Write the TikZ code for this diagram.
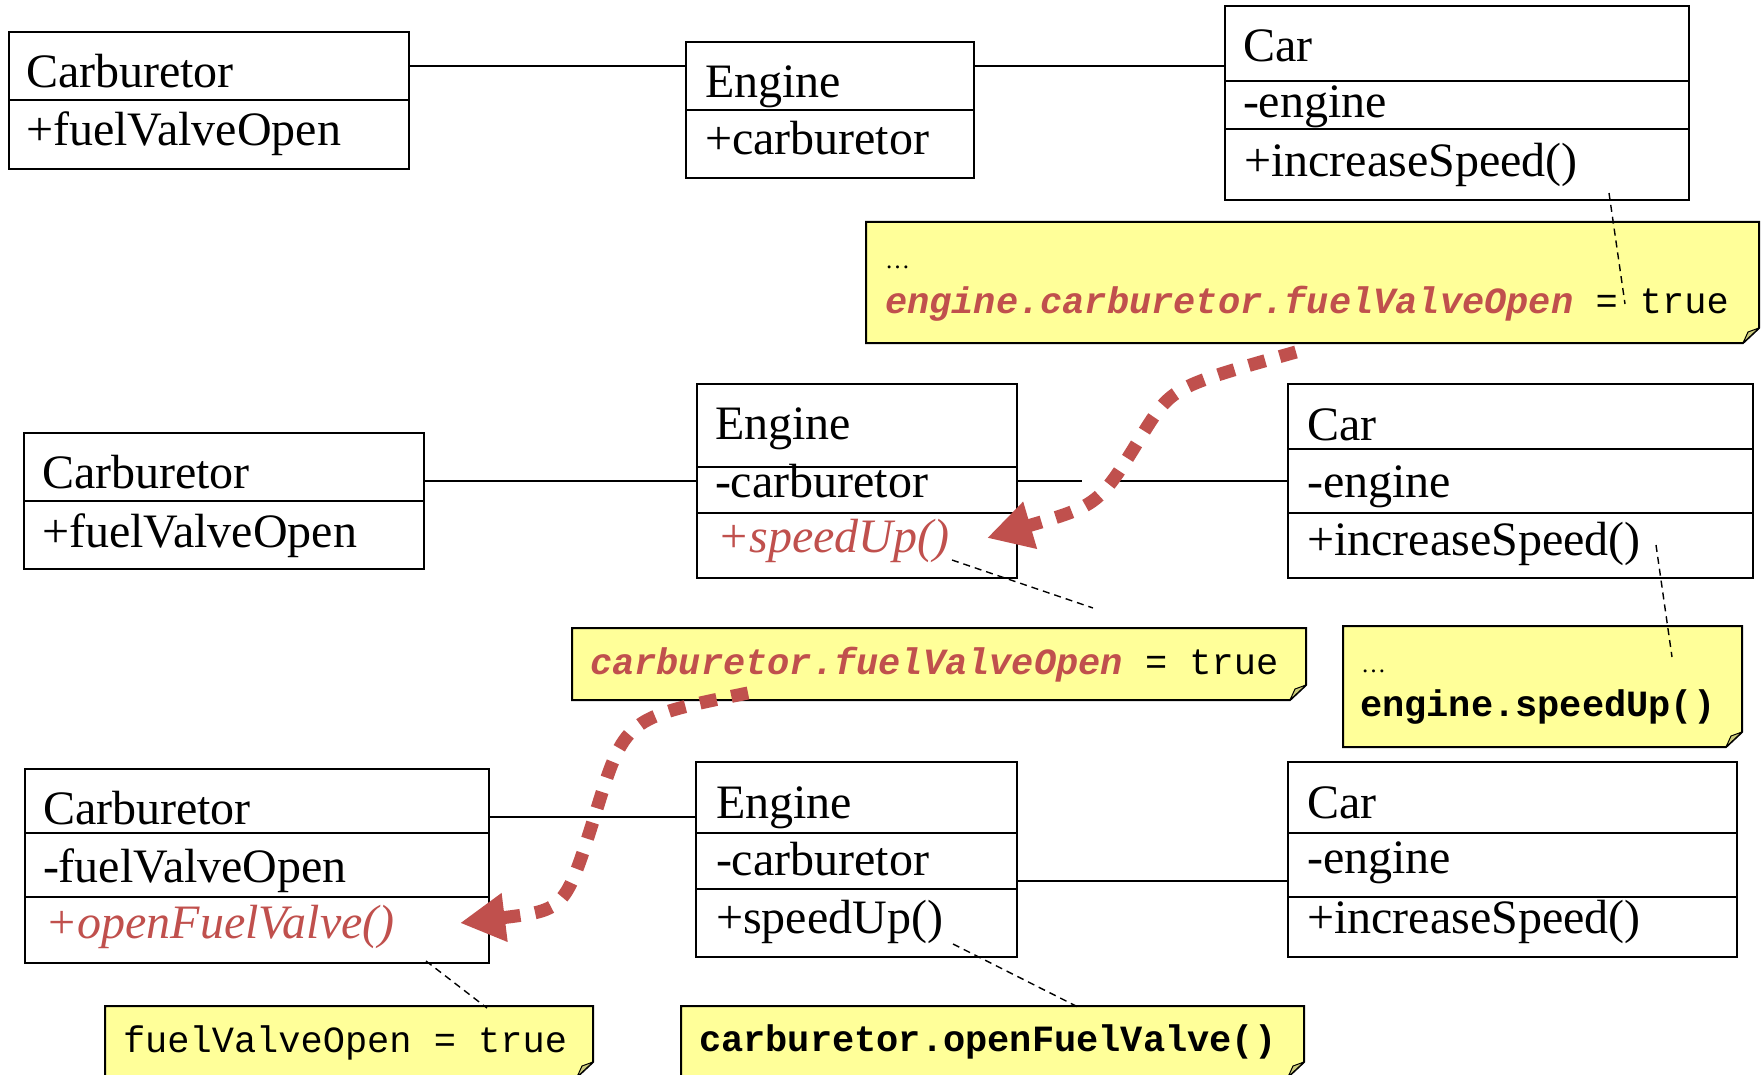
\documentclass[tikz,border=0pt]{standalone}
\usepackage{fontspec}
\setmainfont{Liberation Serif}
\setmonofont{Liberation Mono}
\usetikzlibrary{arrows.meta}
\definecolor{noteyellow}{RGB}{255,255,153}
\definecolor{notefold}{RGB}{204,204,122}
\definecolor{callred}{RGB}{192,80,77}
\newcommand\drawnote[1]{%
  \draw[noteshape] (#1.north west) -- (#1.north east) -- ([yshift=15pt]#1.south east)
     -- ([xshift=-16pt]#1.south east) -- (#1.south west) -- cycle;
  \draw[notefoldstyle] ([yshift=15pt]#1.south east) -- ([xshift=-16pt]#1.south east)
     -- ([xshift=-11pt,yshift=11pt]#1.south east) -- cycle;}
\begin{document}
\begin{tikzpicture}[x=1pt,y=-1pt,
  comp/.style={rectangle,draw=black,line width=2.2pt,fill=white,anchor=north west,inner sep=0pt,outer sep=0pt},
  umltext/.style={anchor=base west,inner sep=0pt,outer sep=0pt,font=\fontsize{48pt}{48pt}\selectfont},
  umlred/.style={umltext,text=callred,font=\fontsize{48pt}{48pt}\selectfont\itshape},
  codetext/.style={anchor=base west,inner sep=0pt,outer sep=0pt,font=\fontsize{37pt}{37pt}\selectfont\ttfamily},
  codebold/.style={codetext,font=\fontsize{37pt}{37pt}\selectfont\ttfamily\bfseries},
  ellip/.style={anchor=base west,inner sep=0pt,outer sep=0pt,font=\fontsize{25pt}{25pt}\selectfont},
  assoc/.style={draw=black,line width=2pt},
  notelink/.style={draw=black,line width=1.4pt,dash pattern=on 7pt off 5pt},
  notebody/.style={rectangle,anchor=north west,inner sep=0pt,outer sep=0pt},
  noteshape/.style={fill=noteyellow,draw=black,line width=2pt,line join=miter},
  notefoldstyle/.style={fill=notefold,draw=black,line width=1pt,line join=round},
  callarrow/.style={draw=callred,line width=13pt,dash pattern=on 17pt off 15pt,
    -{Triangle[length=45pt,width=46pt]}}
]
\fill[white] (0,0) rectangle (1764,1075);
\useasboundingbox (0,0) rectangle (1764,1075);

% ---------- row 1 ----------
\node[comp,minimum width=400pt,minimum height=68pt] (c1n) at (9,32) {};
\node[comp,minimum width=400pt,minimum height=69pt] (c1a) at (c1n.south west) {};
\node[comp,minimum width=288pt,minimum height=68pt] (e1n) at (686,42) {};
\node[comp,minimum width=288pt,minimum height=68pt] (e1a) at (e1n.south west) {};
\node[comp,minimum width=464pt,minimum height=75pt] (k1n) at (1225,6) {};
\node[comp,minimum width=464pt,minimum height=48pt] (k1a) at (k1n.south west) {};
\node[comp,minimum width=464pt,minimum height=71pt] (k1m) at (k1a.south west) {};

\node[umltext] (c1nt) at (26,88) {Carburetor};
\node[umltext] (c1at) at (26,146) {+fuelValveOpen};
\node[umltext] (e1nt) at (705,98) {Engine};
\node[umltext] (e1at) at (705,155) {+carburetor};
\node[umltext] (k1nt) at (1243,62) {Car};
\node[umltext] (k1at) at (1243,118) {-engine};
\node[umltext] (k1mt) at (1244,177) {+increaseSpeed()};

\draw[assoc] (c1n.east) -- (c1n.east -| e1n.west);
\draw[assoc] (e1n.east |- c1n.east) -- (k1n.west |- c1n.east);

% ---------- row 2 ----------
\node[comp,minimum width=400pt,minimum height=68pt] (c2n) at (24,433) {};
\node[comp,minimum width=400pt,minimum height=68pt] (c2a) at (c2n.south west) {};
\node[comp,minimum width=320pt,minimum height=83pt] (e2n) at (697,384) {};
\node[comp,minimum width=320pt,minimum height=46pt] (e2a) at (e2n.south west) {};
\node[comp,minimum width=320pt,minimum height=65pt] (e2m) at (e2a.south west) {};
\node[comp,minimum width=465pt,minimum height=65pt] (k2n) at (1288,384) {};
\node[comp,minimum width=465pt,minimum height=64pt] (k2a) at (k2n.south west) {};
\node[comp,minimum width=465pt,minimum height=65pt] (k2m) at (k2a.south west) {};

\node[umltext] (c2nt) at (42,488) {Carburetor};
\node[umltext] (c2at) at (42,547) {+fuelValveOpen};
\node[umltext] (e2nt) at (715,439) {Engine};
\node[umltext] (e2at) at (715,497) {-carburetor};
\node[umlred]  (e2mt) at (717,552) {+speedUp()};
\node[umltext] (k2nt) at (1307,440) {Car};
\node[umltext] (k2at) at (1307,497) {-engine};
\node[umltext] (k2mt) at (1307,555) {+increaseSpeed()};

\coordinate (r2) at (0,481);
\coordinate (g2a) at (1082,481);
\coordinate (g2b) at (1115,481);
\draw[assoc] (c2n.east |- r2) -- (e2a.west |- r2);
\draw[assoc] (e2a.east |- r2) -- (g2a);
\draw[assoc] (g2b) -- (k2a.west |- r2);

% ---------- row 3 ----------
\node[comp,minimum width=464pt,minimum height=64pt] (c3n) at (25,769) {};
\node[comp,minimum width=464pt,minimum height=64pt] (c3a) at (c3n.south west) {};
\node[comp,minimum width=464pt,minimum height=66pt] (c3m) at (c3a.south west) {};
\node[comp,minimum width=321pt,minimum height=71pt] (e3n) at (696,762) {};
\node[comp,minimum width=321pt,minimum height=56pt] (e3a) at (e3n.south west) {};
\node[comp,minimum width=321pt,minimum height=68pt] (e3m) at (e3a.south west) {};
\node[comp,minimum width=449pt,minimum height=71pt] (k3n) at (1288,762) {};
\node[comp,minimum width=449pt,minimum height=64pt] (k3a) at (k3n.south west) {};
\node[comp,minimum width=449pt,minimum height=60pt] (k3m) at (k3a.south west) {};

\node[umltext] (c3nt) at (43,824) {Carburetor};
\node[umltext] (c3at) at (43,882) {-fuelValveOpen};
\node[umlred]  (c3mt) at (45,938) {+openFuelValve()};
\node[umltext] (e3nt) at (716,818) {Engine};
\node[umltext] (e3at) at (716,875) {-carburetor};
\node[umltext] (e3mt) at (716,933) {+speedUp()};
\node[umltext] (k3nt) at (1307,818) {Car};
\node[umltext] (k3at) at (1307,873) {-engine};
\node[umltext] (k3mt) at (1307,933) {+increaseSpeed()};

\coordinate (r3a) at (0,817);
\coordinate (r3b) at (0,881);
\draw[assoc] (c3n.east |- r3a) -- (e3n.west |- r3a);
\draw[assoc] (e3a.east |- r3b) -- (k3a.west |- r3b);

% ---------- notes ----------
\node[notebody,minimum width=893pt,minimum height=121pt] (n1) at (866,222) {};
\node[notebody,minimum width=734pt,minimum height=72pt] (n2) at (572,628) {};
\node[notebody,minimum width=399pt,minimum height=121pt] (n3) at (1343,626) {};
\node[notebody,minimum width=488pt,minimum height=71pt] (n4) at (105,1006) {};
\node[notebody,minimum width=623pt,minimum height=71pt] (n5) at (681,1006) {};
\drawnote{n1}
\drawnote{n2}
\drawnote{n3}
\drawnote{n4}
\drawnote{n5}

\node[ellip] (n1d) at (885,269) {…};
\node[codetext] (n1t) at (885,313) {{\color{callred}\bfseries\itshape engine.carburetor.fuelValveOpen} = true};
\node[codetext] (n2t) at (590,674) {{\color{callred}\bfseries\itshape carburetor.fuelValveOpen} = true};
\node[ellip] (n3d) at (1361,672) {…};
\node[codebold] (n3t) at (1360,716) {engine.speedUp()};
\node[codetext] (n4t) at (123,1052) {fuelValveOpen = true};
\node[codebold] (n5t) at (699,1051) {carburetor.openFuelValve()};

% ---------- note links ----------
\coordinate (d1s) at (1609,193); \coordinate (d1e) at (1625,304);
\coordinate (d2s) at (952,560);  \coordinate (d2e) at (1093,608);
\coordinate (d3s) at (1656,545); \coordinate (d3e) at (1672,657);
\coordinate (d4s) at (426,961);  \coordinate (d4e) at (487,1008);
\coordinate (d5s) at (953,944);  \coordinate (d5e) at (1080,1008);
\draw[notelink] (d1s) -- (d1e);
\draw[notelink] (d2s) -- (d2e);
\draw[notelink] (d3s) -- (d3e);
\draw[notelink] (d4s) -- (d4e);
\draw[notelink] (d5s) -- (d5e);

% ---------- call arrows ----------
\coordinate (a1s) at (1296,352);
\coordinate (a1m) at (1142,435);
\coordinate (a1e) at (987,538);
\draw[callarrow] (a1s) .. controls (1172,387) .. (a1m) .. controls (1099,505) .. (a1e);
\coordinate (a2s) at (748,693);
\coordinate (a2m) at (595,815);
\coordinate (a2e) at (460,923);
\draw[callarrow] (a2s) .. controls (625,718) .. (a2m) .. controls (565,910) .. (a2e);
\end{tikzpicture}
\end{document}
